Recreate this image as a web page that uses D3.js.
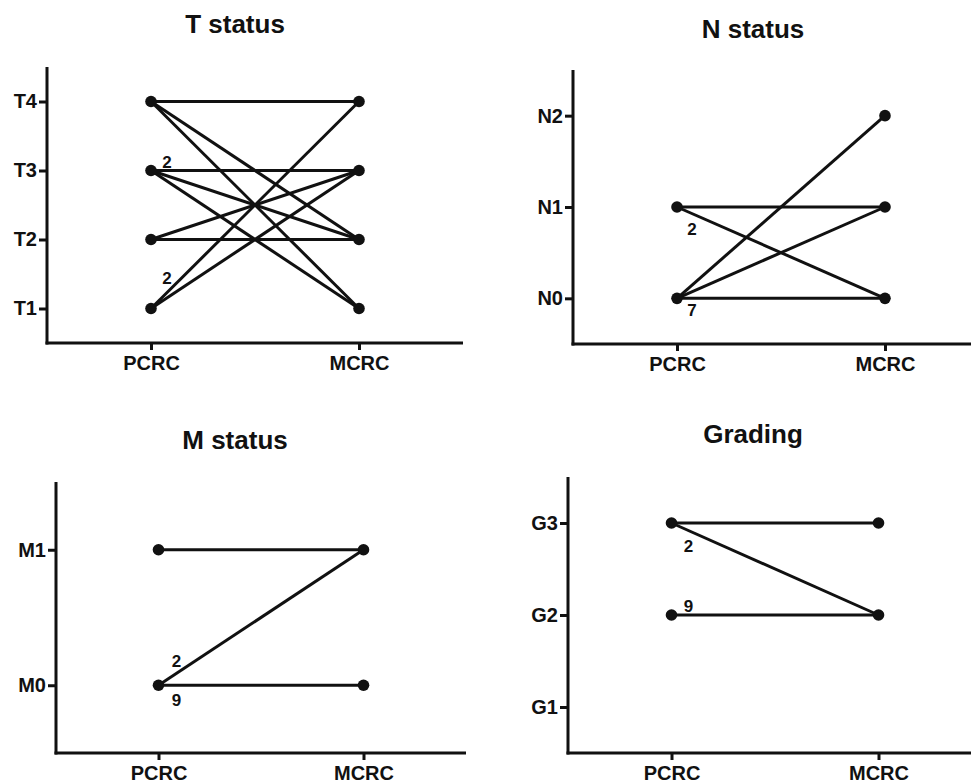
<!DOCTYPE html>
<html>
<head>
    <script type="text/javascript" src="https://cdn.jsdelivr.net/npm/d3@7"></script>
</head>
<body style="margin:0;background:#fff">

<style type="text/css">
    svg text {
        font-family: "Liberation Sans", Arial, Helvetica, sans-serif;
        font-weight: bold;
        fill: #111;
    }
</style>

<svg id="chart" width="971" height="783"></svg>

<script type="text/javascript">
    var groups = ["PCRC", "MCRC"];

    // T status
    var tLevels = ["T1", "T2", "T3", "T4"];
    var tLinks = [["T4","T4"],["T4","T2"],["T4","T1"],["T3","T3"],["T3","T2"],["T3","T1"],
                  ["T2","T3"],["T2","T2"],["T1","T4"],["T1","T3"]];
    var tNotes = [["T3","2"],["T1","2"]];

    // N status
    var nLevels = ["N0", "N1", "N2"];
    var nLinks = [["N1","N1"],["N1","N0"],["N0","N2"],["N0","N1"],["N0","N0"]];
    var nNotes = [["N1","2"],["N0","7"]];

    // M status
    var mLevels = ["M0", "M1"];
    var mLinks = [["M1","M1"],["M0","M1"],["M0","M0"]];
    var mNotes = [["M0","2"],["M0","9"]];

    // Grading
    var gLevels = ["G1", "G2", "G3"];
    var gLinks = [["G3","G3"],["G3","G2"],["G2","G2"]];
    var gNotes = [["G3","2"],["G2","9"]];

    var panels = [
        {title: "T status", levels: tLevels, links: tLinks, notes: tNotes,
         left: 47, right: 463, top: 67, bottom: 343, titleX: 235, titleY: 33,
         offsets: [[16,-3],[16,-25]]},
        {title: "N status", levels: nLevels, links: nLinks, notes: nNotes,
         left: 573, right: 989, top: 70, bottom: 344, titleX: 753, titleY: 38,
         offsets: [[15,28],[15,18]]},
        {title: "M status", levels: mLevels, links: mLinks, notes: mNotes,
         left: 56, right: 466, top: 482, bottom: 753, titleX: 235, titleY: 449,
         offsets: [[18,-18],[18,21]]},
        {title: "Grading", levels: gLevels, links: gLinks, notes: gNotes,
         left: 568, right: 982, top: 477, bottom: 753, titleX: 753, titleY: 443,
         offsets: [[17,29],[17,-3]]}
    ];

    var svg = d3.select("#chart");
    var ink = "#111";

    panels.forEach(function(p) {
        var g = svg.append("g");

        var x = d3.scalePoint().domain(groups).range([p.left, p.right]).padding(0.5);
        var y = d3.scalePoint().domain(p.levels).range([p.bottom, p.top]).padding(0.5);

        g.append("text")
            .attr("x", p.titleX)
            .attr("y", p.titleY)
            .attr("text-anchor", "middle")
            .style("font-size", "26px")
            .text(p.title);

        // axes
        var yAxis = g.append("g")
            .attr("transform", "translate(" + p.left + ",0)")
            .call(d3.axisLeft(y).tickSize(8).tickPadding(2).tickSizeOuter(0));
        var xAxis = g.append("g")
            .attr("transform", "translate(0," + p.bottom + ")")
            .call(d3.axisBottom(x).tickSize(7).tickPadding(6).tickSizeOuter(0));

        [yAxis, xAxis].forEach(function(a) {
            a.select(".domain").attr("stroke", ink).attr("stroke-width", 3);
            a.selectAll(".tick line").attr("stroke", ink).attr("stroke-width", 3);
            a.selectAll(".tick text").style("font-size", "20px").attr("fill", ink);
        });
        // extend axis corners so they meet
        yAxis.select(".domain").attr("d", "M0," + p.top + "V" + (p.bottom + 1.5));
        xAxis.select(".domain").attr("d", "M" + (p.left - 1.5) + ",0H" + p.right);

        // connecting lines
        g.selectAll("line.link")
            .data(p.links)
            .enter().append("line")
            .attr("class", "link")
            .attr("x1", x(groups[0]))
            .attr("x2", x(groups[1]))
            .attr("y1", function(d) { return y(d[0]); })
            .attr("y2", function(d) { return y(d[1]); })
            .attr("stroke", ink)
            .attr("stroke-width", 3);

        // points
        var pts = [];
        d3.union(p.links.map(function(d) { return d[0]; })).forEach(function(l) { pts.push([groups[0], l]); });
        d3.union(p.links.map(function(d) { return d[1]; })).forEach(function(l) { pts.push([groups[1], l]); });

        g.selectAll("circle")
            .data(pts)
            .enter().append("circle")
            .attr("cx", function(d) { return x(d[0]); })
            .attr("cy", function(d) { return y(d[1]); })
            .attr("r", 5.8)
            .attr("fill", ink);

        // count labels
        g.selectAll("text.note")
            .data(p.notes)
            .enter().append("text")
            .attr("class", "note")
            .attr("x", function(d, i) { return x(groups[0]) + p.offsets[i][0]; })
            .attr("y", function(d, i) { return y(d[0]) + p.offsets[i][1]; })
            .attr("text-anchor", "middle")
            .style("font-size", "17px")
            .text(function(d) { return d[1]; });
    });
</script>

</body>
</html>
